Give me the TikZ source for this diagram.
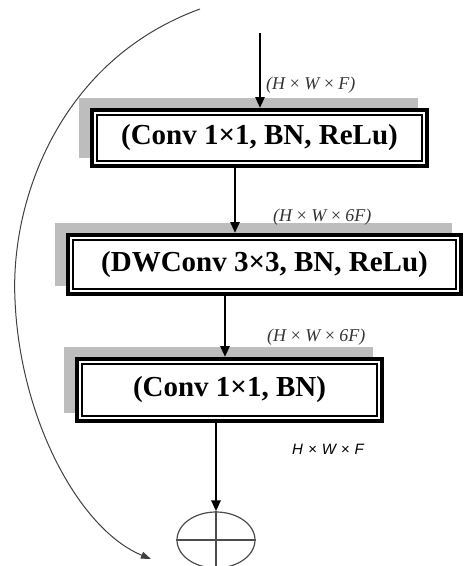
\documentclass[tikz,border=0pt]{standalone}
\usepackage{fontspec}
\setmainfont{Liberation Serif}
\newfontfamily\lblsans{Liberation Sans}
\usetikzlibrary{arrows.meta,shapes.geometric,backgrounds}
\newcommand{\gx}{\hspace{3.5pt}×\hspace{3.5pt}}
\newcommand{\sx}{\hspace{5pt}×\hspace{5pt}}
\begin{document}
\begin{tikzpicture}[x=1pt,y=-1pt,
  blk/.style={draw, line width=4pt, fill=white, inner sep=0pt,
    font=\fontsize{29}{32}\selectfont\bfseries},
  shade/.style={fill=black!26},
  innerline/.style={draw, line width=1.2pt},
  arr/.style={line width=2.6pt, -{Triangle[length=11pt,width=9pt]}},
  lbl/.style={font=\fontsize{18}{20}\selectfont\itshape, text=black!80, inner sep=0pt, anchor=west},
  slbl/.style={font=\lblsans\fontsize{15}{17}\selectfont\itshape, inner sep=0pt, anchor=west},
  curve/.style={line width=1pt, draw=black!75, -{Triangle[length=10pt,width=7pt]}},
  sumnode/.style={ellipse, draw=black!70, line width=1.2pt, minimum width=78pt,
    minimum height=56pt, inner sep=0pt}]
\useasboundingbox (0,0) rectangle (465,566);

% blocks
\node[blk, minimum width=335pt, minimum height=56pt] (b1) at (259.5,138) {(Conv 1×1, BN, ReLu)};
\node[blk, minimum width=393pt, minimum height=59pt] (b2) at (264.5,264.5) {(DWConv 3×3, BN, ReLu)};
\node[blk, minimum width=305pt, minimum height=62pt] (b3) at (229.5,390) {(Conv 1×1, BN)};
\node[sumnode] (sum) at (216,540) {};

% shadows
\begin{scope}[on background layer]
  \foreach \b in {b1,b2,b3}
    \fill[shade] ([shift={(-11,-10)}]\b.north west) rectangle ([shift={(-11,-10)}]\b.south east);
\end{scope}

% inner thin lines
\foreach \b in {b1,b2,b3}
  \draw[innerline] ([shift={(7,7)}]\b.north west) rectangle ([shift={(-7,-7)}]\b.south east);

% sum cross
\draw[black!70, line width=1.2pt] (sum.north) -- (sum.south) (sum.west) -- (sum.east);

% arrows
\coordinate (in) at (260,33);
\draw[arr] (in) -- (in |- b1.north);
\draw[arr] ([xshift=-24.5pt]b1.south) -- ([xshift=-29.5pt]b2.north);
\draw[arr] ([xshift=-39.5pt]b2.south) -- ([xshift=-4.5pt]b3.north);
\draw[arr] ([xshift=-13.5pt]b3.south) -- (sum.north);

% labels
\node[lbl] (l0) at (266,85) {(H\gx W\gx F)};
\node[lbl] (l1) at (273,217) {(H\gx W\gx 6F)};
\node[lbl] (l2) at (267,337) {(H\gx W\gx 6F)};
\node[slbl] (l3) at (292,449) {H\sx W\sx F};

% skip connection curve
\coordinate (cs) at (200,9);
\coordinate (ce) at (151,559);
\draw[curve] (cs) .. controls (60,60) and (10,200) .. (15,300)
  .. controls (20,420) and (80,530) .. (ce);
\end{tikzpicture}
\end{document}
